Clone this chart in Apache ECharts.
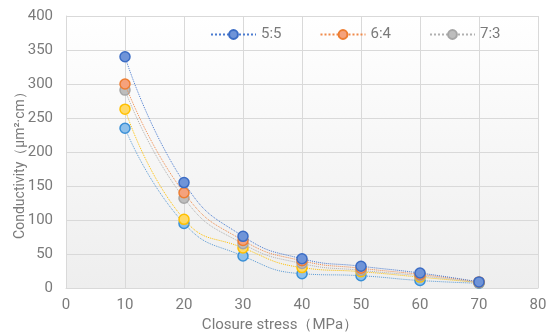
<!DOCTYPE html>
<html><head><meta charset="utf-8">
<script src="https://cdn.jsdelivr.net/npm/echarts@6/dist/echarts.min.js"></script>
<style>html,body{margin:0;padding:0;background:#fff}#c{width:550px;height:332px}</style>
</head><body><div id="c"></div>
<script>
const stress = [10, 20, 30, 40, 50, 60, 70];
const s55 = [340, 155, 76, 43, 32, 22, 9];
const s64 = [300, 140, 70, 40, 29, 20, 9];
const s73 = [291, 132, 65, 36, 26, 18, 8];
const sY  = [263, 101, 59, 30, 24, 16, 8];
const sLB = [235, 95, 47, 21, 18, 11, 7];
const names = ['5:5', '6:4', '7:3', '', ' '];
const xTicks = [0, 10, 20, 30, 40, 50, 60, 70, 80];

const styles = [
  {line:'#4a7bd0', fill:'#6f94d8', border:'#3b6cc4'},
  {line:'#f08a4a', fill:'#f5a27c', border:'#ed7d31'},
  {line:'#b0b0b0', fill:'#bdbdbd', border:'#a5a5a5'},
  {line:'#ffc000', fill:'#ffd966', border:'#ffc000'},
  {line:'#5b9bd5', fill:'#8ec0ea', border:'#3a8fd6'}
];
const all = [s55, s64, s73, sY, sLB];
const series = all.map((d, i) => ({
  name: names[i],
  type: 'line',
  smooth: 0.5,
  data: stress.map((x, j) => [x, d[j]]),
  symbol: 'circle',
  symbolSize: 10,
  z: 10 - i,
  lineStyle: {color: styles[i].line, width: 1, type: 'dotted'},
  itemStyle: {color: styles[i].fill, borderColor: styles[i].border, borderWidth: 1.5}
}));

const font = 'Roboto, "Noto Sans", sans-serif';
const txt = '#7a7a7a';
const chart = echarts.init(document.getElementById('c'));
chart.setOption({
  animation: false,
  backgroundColor: '#fff',
  grid: {
    left: 66, right: 12, top: 16, bottom: 44, show: true, borderWidth: 0,
    containLabel: false, outerBoundsMode: 'none',
    backgroundColor: {type: 'linear', x: 0, y: 0, x2: 0, y2: 1,
      colorStops: [{offset: 0, color: '#ffffff'}, {offset: 1, color: '#eeeeee'}]}
  },
  legend: {
    data: ['5:5', '6:4', '7:3'],
    top: 22, left: 205,
    itemWidth: 45, itemHeight: 11, itemGap: 38,
    textStyle: {color: txt, fontSize: 15, fontFamily: font}
  },
  xAxis: {
    type: 'value', min: 0, max: 80, interval: 10,
    name: 'Closure stress（MPa）', nameLocation: 'middle', nameGap: 24,
    nameTextStyle: {color: txt, fontSize: 15, fontFamily: font, padding: [0, 44, 0, 0]},
    axisLine: {show: true, lineStyle: {color: '#d9d9d9'}},
    axisTick: {show: false},
    axisLabel: {color: txt, fontSize: 15, margin: 10, fontFamily: font},
    splitLine: {show: true, lineStyle: {color: '#d9d9d9', width: 1}}
  },
  yAxis: {
    type: 'value', min: 0, max: 400, interval: 50,
    name: 'Conductivity（μm²·cm）', nameLocation: 'middle', nameGap: 39,
    nameMoveOverlap: false,
    nameTextStyle: {color: txt, fontSize: 14, fontFamily: font, padding: [0, 20, 0, 0]},
    axisLine: {show: true, lineStyle: {color: '#d9d9d9'}},
    axisTick: {show: false},
    axisLabel: {color: txt, fontSize: 15, margin: 13, fontFamily: font},
    splitLine: {show: true, lineStyle: {color: '#d9d9d9', width: 1}}
  },
  series: series
});
</script></body></html>
